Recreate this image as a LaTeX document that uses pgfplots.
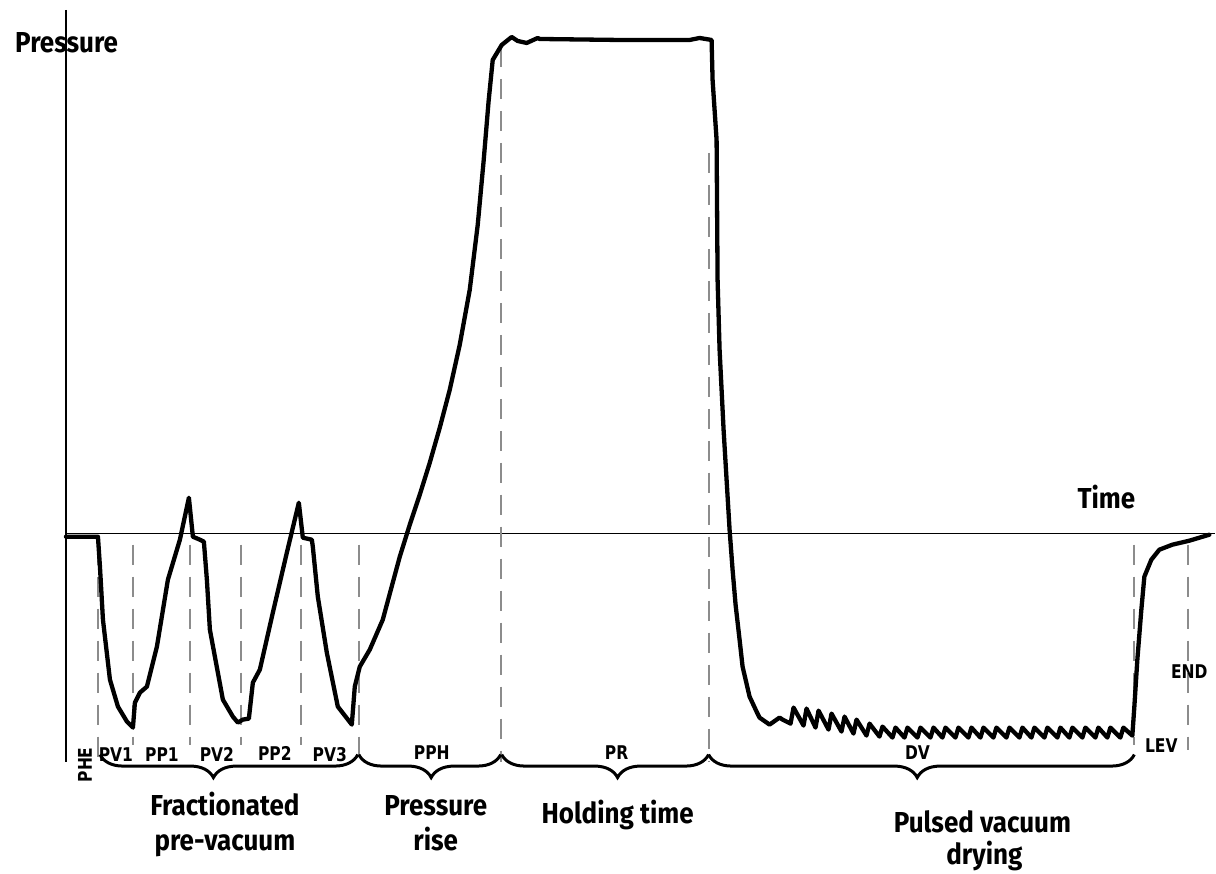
\documentclass[border=0pt]{standalone}
\usepackage{pgfplots}
\pgfplotsset{compat=1.18}
\usetikzlibrary{decorations.pathreplacing}
\usepackage{fontspec}
\setmainfont{Fira Sans}
\newfontfamily\bigfont{Fira Sans}[FakeStretch=0.9]
\newfontfamily\smallfont{DejaVu Sans}
\newcommand{\BF}{\bigfont\bfseries\fontsize{29}{35}\selectfont}
\newcommand{\SF}[1]{\scalebox{0.82}[1]{\smallfont\bfseries\fontsize{19}{23}\selectfont #1}}
\begin{document}
\begin{tikzpicture}
\begin{axis}[scale only axis, width=1216bp, height=874bp,
  xmin=0, xmax=1216, ymin=0, ymax=874, y dir=reverse,
  hide axis, clip=false]
\path (rel axis cs:0,0) rectangle (rel axis cs:1,1);
% axes
\draw[line width=1.4bp] (axis cs:66,10) -- (axis cs:66,762);
\draw[line width=1.4bp] (axis cs:66,534) -- (axis cs:1216,534);
% dashed phase separators
\begin{scope}[color=black!45, line width=2bp, dash pattern=on 20bp off 12bp]
\foreach \xx/\ya/\yb in {98/545/762, 133/545/745, 190/545/745, 241/545/745, 301/545/745, 359/545/762, 501/47/762, 709/153/762, 1135/545/745, 1189/545/750}{
  \edef\temp{\noexpand\draw (axis cs:\xx,\ya) -- (axis cs:\xx,\yb);}\temp
}
\end{scope}
% pressure curve
\addplot[black, line width=4.3bp, line join=round, line cap=round] coordinates {
(66,537)(98,537)(100,567)(103,620)(110,680)(118,707)(127,722)(133,728)
(135,703)(140,693)(147,687)(157,647)(168,580)(180,540)(189,498)
(193,537)(200,540)(204,542)(207,580)(210,630)(223,700)(233,717)(238,723)
(243,720)(249,719)(253,683)(260,670)(273,613)(287,553)(299,503)
(303,538)(312,540)(313,547)(318,597)(327,653)(338,707)(352,725)
(355,687)(360,667)(370,650)(383,620)(400,557)(410,525)(420,495)(430,463)
(440,428)(450,390)(460,345)(470,290)(478,225)(484,160)(489,100)(493,60)
(502,45)(512,37)(518,41)(527,43)(538,38)(540,39)
(620,40)(690,40)(700,38)(712,40)(713,80)(717,140)(718,280)(720,350)
(724,430)(727,480)(730,530)(733,570)(736,605)(740,640)(743,667)(750,697)
(757,712)(760,718)(770,725)(780,718)(783,720)(791,724)
(794,708)(804,726)(807,709)(816,728)(819,711)(829,730)(832,714)
(842,732)(845,717)(854,734)(857,720)(867,736)(870,724)(880,737)(883,727)
(893,738)(896,728)(905,738)(908,728)(918,738)(921,728)(931,738)(934,728)
(943,738)(946,728)(956,738)(959,728)(969,738)(972,728)(981,738)(984,728)
(994,738)(997,728)(1007,738)(1010,728)(1020,738)(1023,728)(1032,738)(1035,728)
(1045,738)(1048,728)(1058,738)(1061,728)(1070,738)(1073,728)(1083,738)(1086,728)
(1096,738)(1099,728)(1108,738)(1111,728)(1121,738)(1124,728)(1133,736)
(1135,707)(1138,660)(1142,610)(1145,577)(1152,560)(1160,550)(1173,545)
(1190,541)(1210,535)
};
% braces
\begin{scope}[line width=3bp]
\draw[decorate, decoration={brace, mirror, amplitude=23bp, aspect=0.44}] (axis cs:100,755) -- (axis cs:358,755);
\draw[decorate, decoration={brace, mirror, amplitude=23bp, aspect=0.51}] (axis cs:359,755) -- (axis cs:501,755);
\draw[decorate, decoration={brace, mirror, amplitude=23bp, aspect=0.56}] (axis cs:502,755) -- (axis cs:709,755);
\draw[decorate, decoration={brace, mirror, amplitude=23bp, aspect=0.49}] (axis cs:709,755) -- (axis cs:1135,755);
\end{scope}
% small labels
\node[anchor=base, inner sep=0pt] at (axis cs:116,762) {\SF{PV1}};
\node[anchor=base, inner sep=0pt] at (axis cs:162,762) {\SF{PP1}};
\node[anchor=base, inner sep=0pt] at (axis cs:217,762) {\SF{PV2}};
\node[anchor=base, inner sep=0pt] at (axis cs:275,761) {\SF{PP2}};
\node[anchor=base, inner sep=0pt] at (axis cs:330,762) {\SF{PV3}};
\node[anchor=base, inner sep=0pt] at (axis cs:432,760) {\SF{PPH}};
\node[anchor=base, inner sep=0pt] at (axis cs:617,760) {\SF{PR}};
\node[anchor=base, inner sep=0pt] at (axis cs:918,760) {\SF{DV}};
\node[anchor=base, inner sep=0pt] at (axis cs:1162,753) {\SF{LEV}};
\node[anchor=base, inner sep=0pt] at (axis cs:1190,679) {\SF{END}};
\node[anchor=base west, rotate=90, inner sep=0pt] at (axis cs:92,783) {\SF{PHE}};
% axis titles
\node[anchor=base west, inner sep=0pt] at (axis cs:15,53) {\BF Pressure};
\node[anchor=base, inner sep=0pt] at (axis cs:1107,509) {\BF Time};
% phase titles
\node[anchor=base, inner sep=0pt] at (axis cs:225,816) {\BF Fractionated};
\node[anchor=base, inner sep=0pt] at (axis cs:225,851) {\BF pre-vacuum};
\node[anchor=base, inner sep=0pt] at (axis cs:436,816) {\BF Pressure};
\node[anchor=base, inner sep=0pt] at (axis cs:436,851) {\BF rise};
\node[anchor=base, inner sep=0pt] at (axis cs:618,824) {\BF Holding time};
\node[anchor=base, inner sep=0pt] at (axis cs:983,833) {\BF Pulsed vacuum};
\node[anchor=base, inner sep=0pt] at (axis cs:985,865) {\BF drying};
\end{axis}
\end{tikzpicture}
\end{document}
